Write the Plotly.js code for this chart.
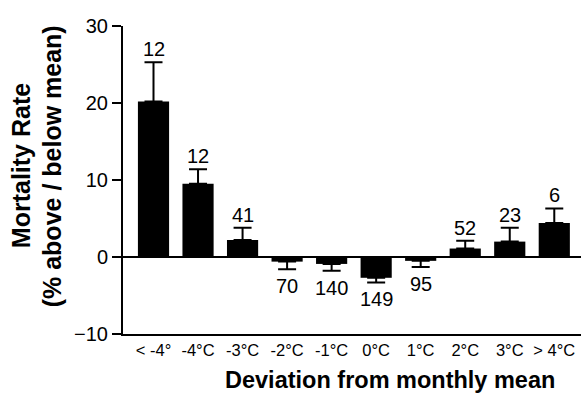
<!DOCTYPE html>
<html><head><meta charset="utf-8">
<script src="https://cdn.plot.ly/plotly-3.0.1.min.js"></script>
<style>html,body{margin:0;padding:0;background:#fff}#chart{width:581px;height:398px}</style>
</head><body><div id="chart"></div>
<script>
const categories = ["< -4°", "-4°C", "-3°C", "-2°C", "-1°C", "0°C", "1°C", "2°C", "3°C", "> 4°C"];
const values = [20.2, 9.5, 2.2, -0.6, -0.9, -2.7, -0.5, 1.1, 2.0, 4.4];
const errors = [5.1, 1.9, 1.6, 1.0, 0.9, 0.6, 0.8, 1.0, 1.8, 1.9];
const counts = ["12", "12", "41", "70", "140", "149", "95", "52", "23", "6"];

const font = "'Liberation Sans', Arial, sans-serif";
const xs = categories.map((c, i) => i);

const trace = {
  type: "bar",
  x: xs,
  y: values,
  width: 0.7,
  marker: {color: "#000", line: {width: 0}},
  error_y: {
    type: "data",
    symmetric: false,
    array: values.map((v, i) => v >= 0 ? errors[i] : 0),
    arrayminus: values.map((v, i) => v < 0 ? errors[i] : 0),
    color: "#000",
    thickness: 2,
    width: 9
  },
  hoverinfo: "skip"
};

const annotations = counts.map((t, i) => {
  const pos = values[i] >= 0;
  return {
    x: xs[i], y: pos ? values[i] + errors[i] : values[i] - errors[i],
    xref: "x", yref: "y", text: t, showarrow: false,
    yanchor: pos ? "bottom" : "top", yshift: pos ? 0 : -4,
    font: {family: font, size: 20, color: "#000"}
  };
});
annotations.push(
  {text: "<b>Deviation from monthly mean</b>", xref: "paper", yref: "paper", x: 0.583, y: -0.149,
   xanchor: "center", yanchor: "middle", showarrow: false,
   font: {family: font, size: 23.5, color: "#000"}},
  {text: "<b>Mortality Rate</b>", xref: "paper", yref: "paper", x: -0.222, y: 0.546, textangle: -90,
   xanchor: "center", yanchor: "middle", showarrow: false,
   font: {family: font, size: 25, color: "#000"}},
  {text: "<b>(% above / below mean)</b>", xref: "paper", yref: "paper", x: -0.156, y: 0.543, textangle: -90,
   xanchor: "center", yanchor: "middle", showarrow: false,
   font: {family: font, size: 25, color: "#000"}}
);

const layout = {
  width: 581, height: 398,
  margin: {l: 123, r: 0, t: 26, b: 64},
  paper_bgcolor: "#fff", plot_bgcolor: "#fff",
  showlegend: false,
  xaxis: {
    range: [-0.685, 9.6],
    tickmode: "array", tickvals: xs, ticktext: categories,
    ticks: "", showgrid: false, zeroline: false,
    showline: true, linecolor: "#000", linewidth: 2,
    tickfont: {family: font, size: 16.5, color: "#000"},
    ticklabelstandoff: 0
  },
  yaxis: {
    range: [-10, 30],
    tickvals: [-10, 0, 10, 20, 30],
    ticks: "outside", ticklen: 9, tickwidth: 1.5, tickcolor: "#000",
    showgrid: false, zeroline: true, zerolinecolor: "#000", zerolinewidth: 1.5,
    showline: true, linecolor: "#000", linewidth: 2,
    tickfont: {family: font, size: 20, color: "#000"},
    ticklabelstandoff: 0
  },
  annotations: annotations
};

Plotly.newPlot("chart", [trace], layout, {staticPlot: true, displayModeBar: false});
</script>
</body></html>
